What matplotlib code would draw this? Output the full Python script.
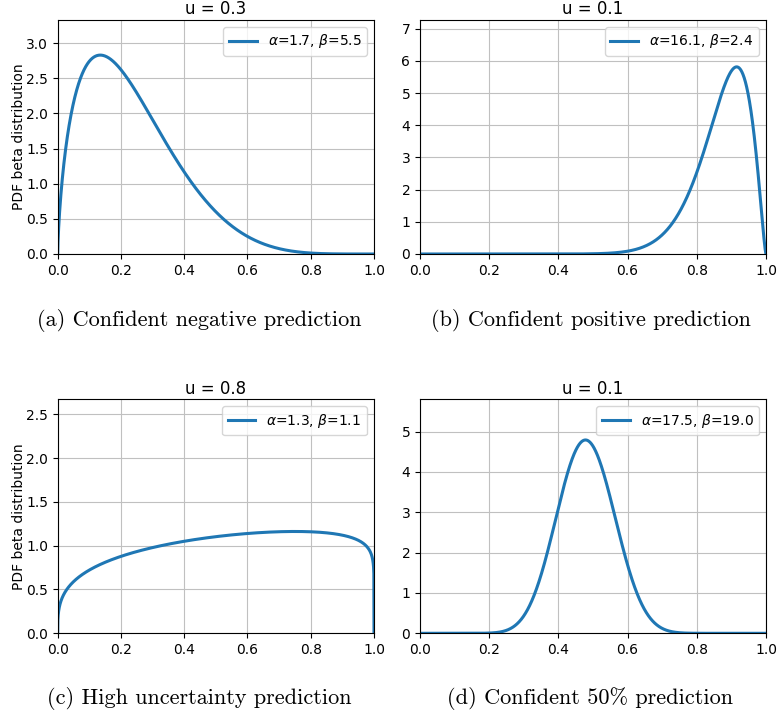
import math
import numpy as np
import matplotlib
matplotlib.use("Agg")
import matplotlib.pyplot as plt

# parameters shown in the legends
alphas = [1.7, 16.1, 1.3, 17.5]
betas = [5.5, 2.4, 1.1, 19.0]
u_values = [0.3, 0.1, 0.8, 0.1]
y_tops = [3.33, 7.27, 2.67, 5.8]
captions = ["(a) Confident negative prediction", "(b) Confident positive prediction",
            "(c) High uncertainty prediction", "(d) Confident 50% prediction"]


def beta_pdf(x, a, b):
    logB = math.lgamma(a) + math.lgamma(b) - math.lgamma(a + b)
    with np.errstate(divide="ignore"):
        y = np.exp((a - 1) * np.log(x) + (b - 1) * np.log(1 - x) - logB)
    return np.nan_to_num(y)


fig = plt.figure(figsize=(7.78, 7.17), dpi=100)
W, H = 778, 717
# axes boxes in pixels: left, right, top, bottom
boxes = [(57.7, 374, 20, 254), (420, 766, 20, 254),
         (57.7, 374, 399.3, 633.3), (420, 766, 399.3, 633.3)]
cap_pos = [(199, 320), (591, 320), (199, 698), (590, 698)]

x = np.linspace(0, 1, 2000)
for i in range(4):
    l, r, t, b = boxes[i]
    ax = fig.add_axes([l / W, 1 - b / H, (r - l) / W, (b - t) / H])
    y = beta_pdf(x, alphas[i], betas[i])
    ax.plot(x, y, color="#1f77b4", lw=2.2,
            label=r"$\alpha$=%.1f, $\beta$=%.1f" % (alphas[i], betas[i]))
    ax.set_xlim(0, 1)
    ax.set_ylim(0, y_tops[i])
    ax.grid(True, color="#c0c0c0")
    ax.set_title("u = %.1f" % u_values[i], fontsize=12, pad=4)
    ax.tick_params(labelsize=10)
    if i % 2 == 0:
        ax.set_ylabel("PDF beta distribution", fontsize=10, labelpad=0)
    ax.legend(loc="upper right", fontsize=10)
    cx, cy = cap_pos[i]
    fig.text(cx / W, 1 - cy / H, captions[i], family="cmr10", fontsize=16,
             ha="center", va="center")

fig.savefig("out.png", dpi=100)
